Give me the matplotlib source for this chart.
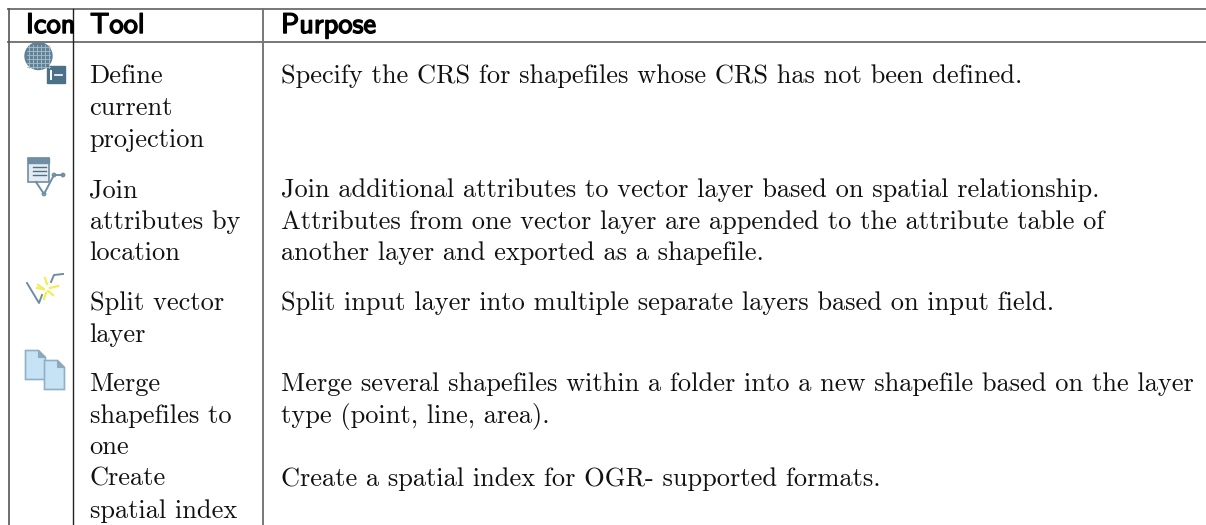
import matplotlib
matplotlib.use("Agg")
import matplotlib.pyplot as plt
from matplotlib.patches import Polygon, Circle, Rectangle
import matplotlib.patheffects as pe

W, H = 1206, 525
headers = ["Icon", "Tool", "Purpose"]
tool_lines = [("Define", 83), ("current", 115), ("projection", 147),
              ("Join", 197), ("attributes by", 229), ("location", 260),
              ("Split vector", 310), ("layer", 342),
              ("Merge", 391), ("shapefiles to", 423), ("one", 454),
              ("Create", 486), ("spatial index", 518)]
purpose_lines = [("Specify the CRS for shapefiles whose CRS has not been defined.", 83),
                 ("Join additional attributes to vector layer based on spatial relationship.", 197),
                 ("Attributes from one vector layer are appended to the attribute table of", 229),
                 ("another layer and exported as a shapefile.", 260),
                 ("Split input layer into multiple separate layers based on input field.", 310),
                 ("Merge several shapefiles within a folder into a new shapefile based on the layer", 391),
                 ("type (point, line, area).", 423),
                 ("Create a spatial index for OGR- supported formats.", 486)]

fig = plt.figure(figsize=(W/100, H/100), dpi=100)
ax = fig.add_axes([0, 0, 1, 1])
ax.set_xlim(0, W); ax.set_ylim(H, 0); ax.axis("off")

gray = "#777777"
ax.plot([8, W], [9, 9], color=gray, lw=1.4)
ax.plot([8, W], [42, 42], color=gray, lw=1.4)
ax.plot([8.5, 8.5], [9, H], color="#555555", lw=1.2)
ax.plot([72.5, 72.5], [9, H], color="#222222", lw=1.0)
ax.plot([263, 263], [9, H], color=gray, lw=1.4)

hfx = [pe.withStroke(linewidth=1.0, foreground="black")]
for s, x in zip(headers, [26, 90, 281]):
    ax.text(x, 33, s, family="cmss10", fontsize=20.5, va="baseline", color="black", path_effects=hfx)
for s, y in tool_lines:
    ax.text(89.5, y, s, family="cmr10", fontsize=19, va="baseline", color="#111111")
for s, y in purpose_lines:
    ax.text(281, y, s, family="cmr10", fontsize=19, va="baseline", color="#111111")

# icons
ax.add_patch(Circle((38.5, 56), 13.5, color="#5f8299"))
for v in range(29, 50, 4):
    ax.plot([v, v], [45, 68], color="#a9bfcc", lw=0.6)
for v in range(47, 68, 4):
    ax.plot([27, 50], [v, v], color="#a9bfcc", lw=0.6)
ax.add_patch(Rectangle((47, 66), 18, 17, color="#4a7189"))
ax.plot([51, 51], [71, 79], color="white", lw=1.4)
ax.plot([55, 62], [75, 75], color="white", lw=1.2)

ax.add_patch(Rectangle((27.5, 158), 21, 24, fc="#e4ecf2", ec="#6f8ea3", lw=1.2))
ax.add_patch(Rectangle((27.5, 158), 21, 5, color="#6f8ea3"))
for v in (167, 171, 175):
    ax.plot([33, 46], [v, v], color="#4f6f86", lw=1)
ax.plot([36, 44, 54, 63], [182, 194, 175, 175], color="#6f8ea3", lw=1.4)
for p in [(44, 194), (54, 175), (63, 175)]:
    ax.add_patch(Circle(p, 1.7, fc="white", ec="#6f8ea3", lw=1))

ax.plot([27, 39, 42], [283, 303, 295], color="#6f8ea3", lw=1.4)
ax.plot([51, 54, 63], [282, 275, 274], color="#6f8ea3", lw=1.4)
for a, b in [((38, 285), (44, 289)), ((45, 278), (47, 284)), ((37, 288), (43, 289)), ((50, 288), (58, 286)), ((48, 291), (53, 295)), ((46, 293), (44, 299))]:
    ax.plot(*zip(a, b), color="#f2ee55", lw=1.6)

for ox, oy in [(25.5, 350.5), (44.5, 360.5)]:
    ax.add_patch(Polygon([(ox, oy), (ox+13, oy), (ox+20, oy+7), (ox+20, oy+29), (ox, oy+29)],
                         fc="#c6e2f5", ec="#8fb0c6", lw=1.2))
    ax.add_patch(Polygon([(ox+13, oy), (ox+20, oy+7), (ox+13, oy+7)], fc="#8fa9bb", ec="#8fa9bb", lw=0.8))

fig.savefig("out.png", dpi=100)
